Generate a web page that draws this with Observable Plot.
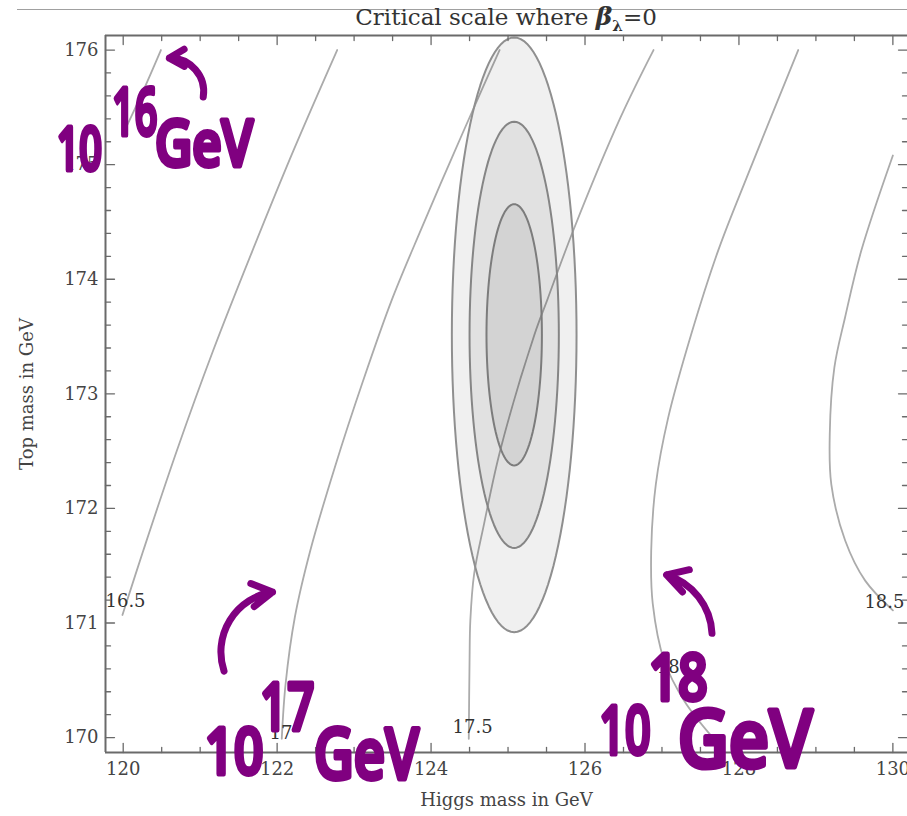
<!DOCTYPE html>
<html><head><meta charset="utf-8">
<script src="https://cdn.jsdelivr.net/npm/d3@7"></script>
<script src="https://cdn.jsdelivr.net/npm/@observablehq/plot@0.6"></script>
<style>
html,body{margin:0;padding:0;background:#fff;overflow:hidden;}
#wrap{position:relative;width:907px;height:816px;overflow:hidden;}
#chart{position:absolute;left:0;top:0;}
#rule{position:absolute;left:17px;top:9px;width:890px;height:0;border-top:1px solid #a0a0a0;}
#title{position:absolute;left:506px;top:4px;transform:translateX(-50%);white-space:nowrap;font-family:"DejaVu Serif",serif;font-size:23px;color:#333;line-height:26px;}
#title b{font-size:25px;}
#title sub{font-size:15px;line-height:0;}
</style></head><body>
<div id="wrap"><div id="chart"></div><div id="rule"></div><div id="title">Critical scale where <b><i>β</i><sub>λ</sub></b>=0</div></div>
<script>
// ---- axes ----
const xDomain = [119.77, 130.19];
const yDomain = [169.87, 176.127];
const xMajor = [120, 122, 124, 126, 128, 130];
const xMinor = [120.5, 121, 121.5, 122.5, 123, 123.5, 124.5, 125, 125.5, 126.5, 127, 127.5, 128.5, 129, 129.5];
const yMajor = [170, 171, 172, 173, 174, 175, 176];
const yMinor = [170.2, 170.4, 170.6, 170.8, 171.2, 171.4, 171.6, 171.8, 172.2, 172.4, 172.6, 172.8,
                173.2, 173.4, 173.6, 173.8, 174.2, 174.4, 174.6, 174.8, 175.2, 175.4, 175.6, 175.8];
const xTitle = "Higgs mass in GeV";
const yTitle = "Top mass in GeV";

// ---- contours of log10(critical scale / GeV): [Higgs mass, top mass] ----
const contour16 = [[120.49, 176.0], [120.25, 175.63], [120.0, 175.27]];
const contour165 = [[122.78, 176.0], [122.21, 175.12], [121.68, 174.25], [121.17, 173.38], [120.70, 172.51],
                    [120.26, 171.63], [119.99, 171.07]];
const contour17 = [[124.89, 176.0], [124.67, 175.67], [124.27, 175.06], [123.88, 174.45], [123.49, 173.82],
                   [123.12, 173.12], [122.75, 172.36], [122.43, 171.63], [122.23, 171.05], [122.11, 170.47], [122.06, 169.99]];
const contour175 = [[126.89, 176.0], [126.46, 175.41], [125.85, 174.43], [125.51, 173.82], [125.34, 173.51],
                    [124.90, 172.51], [124.69, 171.87], [124.56, 171.43], [124.51, 171.02], [124.50, 170.67], [124.49, 169.99]];
const contour18 = [[128.77, 176.0], [128.12, 174.92], [127.73, 174.25], [127.38, 173.52], [127.08, 172.79],
                   [126.92, 172.21], [126.86, 171.63], [126.88, 171.17], [127.03, 170.67], [127.29, 170.32], [127.66, 170.0]];
const contour185 = [[130.0, 175.08], [129.59, 174.25], [129.38, 173.67], [129.24, 173.23], [129.18, 172.65],
                    [129.20, 172.21], [129.38, 171.72], [129.64, 171.37], [130.0, 171.11]];
const contourSets = [["16", contour16], ["16.5", contour165], ["17", contour17], ["17.5", contour175], ["18", contour18], ["18.5", contour185]];

// contour labels
const labelText = ["16.5", "17", "17.5", "18", "18.5"];
const labelX = [120.03, 122.05, 124.54, 127.08, 129.89];
const labelY = [171.19, 170.04, 170.09, 170.61, 171.18];

// ---- measurement ellipses (1, 2, 3 sigma) ----
const ellipseCenter = [125.08, 173.515];
const ellipseA = [0.81, 0.58, 0.36];   // half width, Higgs mass
const ellipseB = [2.595, 1.86, 1.14];  // half height, top mass

// ---- handwritten annotations ----
const annoText = ["10", "16", "GeV", "10", "17", "GeV", "18", "10", "GeV"];
const annoX = [119.43, 120.15, 121.05, 121.44, 122.13, 123.16, 127.21, 126.52, 128.08];
const annoY = [175.12, 175.44, 175.17, 169.86, 170.25, 169.83, 170.51, 170.05, 169.97];
const arrowX1 = [121.04, 121.31, 127.65];
const arrowY1 = [175.59, 170.58, 170.91];
const arrowX2 = [120.60, 121.94, 127.06];
const arrowY2 = [175.93, 171.27, 171.42];

// styles for the handwriting
const annoSize = [60, 66, 64, 64, 66, 70, 64, 68, 80];
const annoStretch = [0.66, 0.6, 0.8, 0.8, 0.72, 0.78, 0.8, 0.66, 0.88];
const arrowBend = [-50, 50, -35];

// build tables
const contourRows = contourSets.flatMap(([lvl, pts]) => pts.map(([x, y]) => ({lvl, x, y})));
const ellipseRows = ellipseA.flatMap((a, k) => {
  const pts = [];
  for (let t = 0; t <= 360; t += 3) {
    const r = t * Math.PI / 180;
    pts.push({k, x: ellipseCenter[0] + a * Math.cos(r), y: ellipseCenter[1] + ellipseB[k] * Math.sin(r)});
  }
  return pts;
});
const labels = labelText.map((t, i) => ({t, x: labelX[i], y: labelY[i]}));
const annos = annoText.map((t, i) => ({t, x: annoX[i], y: annoY[i], s: annoSize[i]}));
const arrows = arrowX1.map((_, i) => ({x1: arrowX1[i], y1: arrowY1[i], x2: arrowX2[i], y2: arrowY2[i]}));

const tickShape = {draw(ctx, l) { ctx.moveTo(0, 0); ctx.lineTo(0, -l); }};
const frameColor = "#6a6a6a";
const ticks = (data, side, len) => {
  const rot = {bottom: 0, top: 180, left: 90, right: -90}[side];
  const ch = (side === "bottom" || side === "top") ? {x: d => d} : {y: d => d};
  return Plot.vector(data, {...ch, frameAnchor: side, length: len, rotate: rot, anchor: "start", shape: tickShape, stroke: frameColor, strokeWidth: 1.3});
};
const purple = "#800080";

const chart = Plot.plot({
  width: 907, height: 816,
  marginLeft: 105, marginRight: 0, marginTop: 35, marginBottom: 64,
  x: {domain: xDomain},
  y: {domain: yDomain},
  style: {fontFamily: "DejaVu Serif, serif", background: "transparent", overflow: "visible"},
  marks: [
    // contour lines
    Plot.line(contourRows, {x: "x", y: "y", z: "lvl", curve: "catmull-rom", stroke: "#ababab", strokeWidth: 1.8}),
    // ellipses
    ellipseA.map((_, k) => Plot.line(ellipseRows.filter(d => d.k === k), {x: "x", y: "y", fill: "#000", fillOpacity: 0.06, stroke: ["#8f8f8f", "#858585", "#7c7c7c"][k], strokeWidth: 2})),
    // contour labels
    Plot.text(labels, {x: "x", y: "y", text: "t", fontSize: 18, fill: "#333"}),
    // frame
    Plot.ruleX([xDomain[0]], {stroke: frameColor, strokeWidth: 2}),
    Plot.ruleY([yDomain[0], yDomain[1]], {stroke: frameColor, strokeWidth: 2}),
    ticks(xMajor, "bottom", 9), ticks(xMinor, "bottom", 5),
    ticks(xMajor, "top", 9), ticks(xMinor, "top", 5),
    ticks(yMajor, "left", 9), ticks(yMinor, "left", 5),
    ticks(yMajor, "right", 9), ticks(yMinor, "right", 5),
    Plot.axisX({ticks: xMajor, tickFormat: "d", tickSize: 0, tickPadding: 10, fontSize: 18, fill: "#444", label: null}),
    Plot.axisY({ticks: yMajor, tickFormat: "d", tickSize: 0, tickPadding: 7, fontSize: 18, fill: "#444", label: null}),
    Plot.text([xTitle], {frameAnchor: "bottom", textAnchor: "middle", lineAnchor: "middle", dy: 48, fontSize: 18, fill: "#444"}),
    Plot.text([yTitle], {frameAnchor: "left", textAnchor: "middle", lineAnchor: "middle", dx: -78, rotate: -90, fontSize: 18, fill: "#444"}),
    // handwritten annotations
    Plot.text(annos, {x: "x", y: "y", text: "t", fontSize: "s", className: "hand", fontFamily: "Noto Sans, sans-serif", fontWeight: 500, fill: purple, stroke: purple, strokeWidth: 5, strokeLinejoin: "round", strokeLinecap: "round"}),
    arrows.map((a, i) => Plot.arrow([a], {x1: "x1", y1: "y1", x2: "x2", y2: "y2", bend: arrowBend[i], stroke: purple, strokeWidth: 7, headLength: 5, strokeLinecap: "round", strokeLinejoin: "round"}))
  ]
});
chart.querySelectorAll(".hand text").forEach((el, i) => {
  el.setAttribute("transform", (el.getAttribute("transform") || "") + ` scale(${annoStretch[i]},1)`);
});
document.getElementById("chart").appendChild(chart);
</script>
</body></html>
